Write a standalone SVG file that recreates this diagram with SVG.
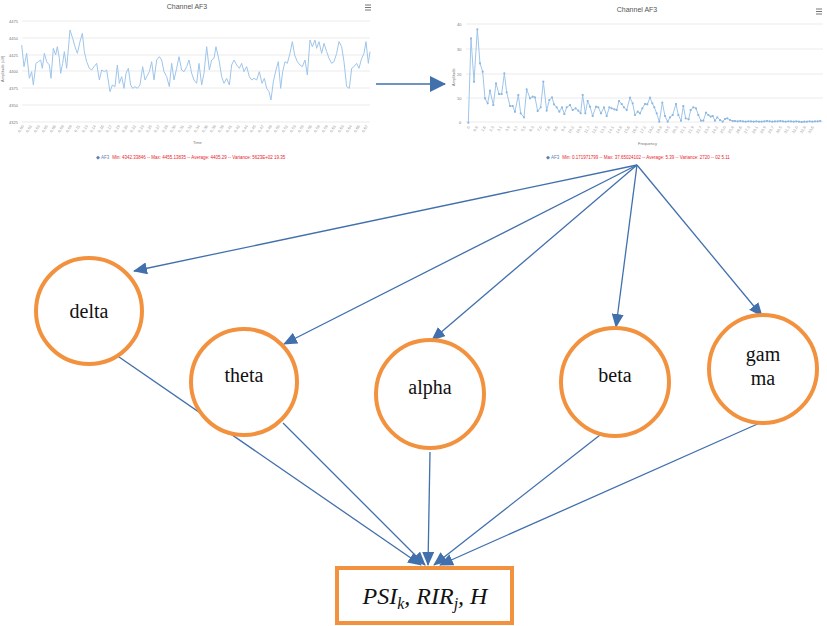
<svg xmlns="http://www.w3.org/2000/svg" width="827" height="626" viewBox="0 0 827 626">
<style>
.bg{fill:#ffffff}
.grid{stroke:#e6e6e6;stroke-width:0.8}
.ctitle{font-family:"Liberation Sans",Arial,sans-serif;font-size:7px;fill:#555;text-anchor:middle}
.axl{font-family:"Liberation Sans",Arial,sans-serif;font-size:4px;fill:#777}
.tick{font-family:"Liberation Sans",Arial,sans-serif;font-size:4px;fill:#999;text-anchor:end}
.leg{font-family:"Liberation Sans",Arial,sans-serif;font-size:4.5px;fill:#e8232a}
.legk{font-family:"Liberation Sans",Arial,sans-serif;font-size:4.5px;fill:#5b7fb5}
.data{fill:none;stroke:#9ec5ea;stroke-width:3;stroke-linejoin:round}
.node circle{fill:#ffffff;stroke:#f2923f;stroke-width:4}
.node text{font-family:"Liberation Serif","Times New Roman",serif;font-size:20px;fill:#111;text-anchor:middle}
.edge{stroke:#4170ad;stroke-width:1.3;fill:none}
.menu{stroke:#666;stroke-width:0.9}
</style>
<defs>
<marker id="ah" markerUnits="userSpaceOnUse" markerWidth="14" markerHeight="12" refX="13" refY="6" orient="auto">
<path d="M0,0 L14,6 L0,12 Z" fill="#4170ad"/>
</marker>
<marker id="ahb" markerUnits="userSpaceOnUse" markerWidth="16" markerHeight="16" refX="15" refY="8" orient="auto">
<path d="M0,0 L16,8 L0,16 Z" fill="#4170ad"/>
</marker>
<marker id="dot" markerUnits="userSpaceOnUse" markerWidth="8" markerHeight="8" refX="4" refY="4">
<circle cx="4" cy="4" r="3.2" fill="#8db7e2"/>
</marker>
</defs>
<rect class="bg" x="0" y="0" width="827" height="626"/>

<g id="chart-time">
<text class="ctitle" x="187" y="9">Channel  AF3</text>
<g class="menu"><line x1="365" y1="5" x2="371" y2="5"/><line x1="365" y1="7.5" x2="371" y2="7.5"/><line x1="365" y1="10" x2="371" y2="10"/></g>
<g class="grid">
<line x1="22" y1="21" x2="370" y2="21"/><line x1="22" y1="38" x2="370" y2="38"/><line x1="22" y1="55" x2="370" y2="55"/><line x1="22" y1="71" x2="370" y2="71"/><line x1="22" y1="88" x2="370" y2="88"/><line x1="22" y1="105" x2="370" y2="105"/><line x1="22" y1="122" x2="370" y2="122"/>
</g>
<g class="axl">
<text x="9" y="23">4475</text><text x="9" y="40">4450</text><text x="9" y="57">4425</text><text x="9" y="73">4400</text><text x="9" y="90">4375</text><text x="9" y="107">4350</text><text x="9" y="124">4325</text>
<text transform="translate(4,82) rotate(-90)">Amplitude (uV)</text>
<text x="193" y="144">Time</text>
</g>
<g class="tick">
<text transform="translate(24,126) rotate(-60)">0.00</text><text transform="translate(32,126) rotate(-60)">0.02</text><text transform="translate(40,126) rotate(-60)">0.03</text><text transform="translate(48,126) rotate(-60)">0.05</text><text transform="translate(56,126) rotate(-60)">0.06</text><text transform="translate(64,126) rotate(-60)">0.08</text><text transform="translate(72,126) rotate(-60)">0.09</text><text transform="translate(80,126) rotate(-60)">0.11</text><text transform="translate(88,126) rotate(-60)">0.13</text><text transform="translate(96,126) rotate(-60)">0.14</text><text transform="translate(104,126) rotate(-60)">0.16</text><text transform="translate(112,126) rotate(-60)">0.17</text><text transform="translate(120,126) rotate(-60)">0.19</text><text transform="translate(128,126) rotate(-60)">0.20</text><text transform="translate(136,126) rotate(-60)">0.22</text><text transform="translate(144,126) rotate(-60)">0.23</text><text transform="translate(152,126) rotate(-60)">0.25</text><text transform="translate(160,126) rotate(-60)">0.27</text><text transform="translate(168,126) rotate(-60)">0.28</text><text transform="translate(176,126) rotate(-60)">0.30</text><text transform="translate(184,126) rotate(-60)">0.31</text><text transform="translate(192,126) rotate(-60)">0.33</text><text transform="translate(200,126) rotate(-60)">0.34</text><text transform="translate(208,126) rotate(-60)">0.36</text><text transform="translate(216,126) rotate(-60)">0.38</text><text transform="translate(224,126) rotate(-60)">0.39</text><text transform="translate(232,126) rotate(-60)">0.41</text><text transform="translate(240,126) rotate(-60)">0.42</text><text transform="translate(248,126) rotate(-60)">0.44</text><text transform="translate(256,126) rotate(-60)">0.45</text><text transform="translate(264,126) rotate(-60)">0.47</text><text transform="translate(272,126) rotate(-60)">0.48</text><text transform="translate(280,126) rotate(-60)">0.50</text><text transform="translate(288,126) rotate(-60)">0.52</text><text transform="translate(296,126) rotate(-60)">0.53</text><text transform="translate(304,126) rotate(-60)">0.55</text><text transform="translate(312,126) rotate(-60)">0.56</text><text transform="translate(320,126) rotate(-60)">0.58</text><text transform="translate(328,126) rotate(-60)">0.59</text><text transform="translate(336,126) rotate(-60)">0.61</text><text transform="translate(344,126) rotate(-60)">0.63</text><text transform="translate(352,126) rotate(-60)">0.64</text><text transform="translate(360,126) rotate(-60)">0.66</text><text transform="translate(368,126) rotate(-60)">0.67</text>
</g>
<g transform="scale(0.33333)">
<polyline class="data" points="65,135 72,200 80,160 88,235 95,215 100,255 108,190 115,185 122,180 127,205 133,160 140,185 148,195 153,235 160,145 167,165 172,140 178,175 182,220 188,190 193,155 200,205 210,90 218,115 225,140 232,160 240,125 247,100 253,155 260,185 268,205 275,210 282,200 290,190 298,240 305,210 313,215 320,210 330,275 337,255 345,260 352,195 358,250 365,230 372,265 378,220 385,205 392,255 398,265 405,260 412,265 420,255 428,200 435,240 440,230 448,215 455,185 462,240 470,180 478,170 485,180 492,215 500,230 508,260 515,190 522,240 530,205 537,170 545,210 552,215 560,200 567,180 575,220 582,240 590,250 597,190 605,255 612,220 620,140 628,210 635,180 642,175 648,140 657,180 665,230 672,250 680,235 688,255 695,195 702,180 710,195 718,205 725,190 732,215 740,200 748,230 755,240 762,235 770,240 778,215 786,250 793,235 800,265 807,275 813,300 820,245 828,210 835,185 842,265 848,215 855,185 862,190 870,160 877,125 884,165 892,185 900,195 907,200 915,180 922,225 930,120 937,140 945,120 950,145 957,125 965,160 972,130 980,155 987,175 995,190 1002,185 1010,160 1017,125 1025,140 1032,185 1040,260 1048,265 1055,205 1062,200 1070,190 1077,205 1085,175 1092,160 1098,125 1105,190 1110,155"/>
</g>
<text x="96" y="159"><tspan class="legk">◆ AF3</tspan><tspan class="leg" dx="3">Min: 4342.33846 -- Max: 4455.13835 -- Average: 4405.29 -- Variance: 5623E+02 19.35</tspan></text>
</g>

<g id="chart-freq">
<text class="ctitle" x="637" y="12">Channel  AF3</text>
<g class="menu"><line x1="816" y1="9" x2="822" y2="9"/><line x1="816" y1="11.5" x2="822" y2="11.5"/><line x1="816" y1="14" x2="822" y2="14"/></g>
<g class="grid">
<line x1="466" y1="24" x2="823" y2="24"/><line x1="466" y1="49" x2="823" y2="49"/><line x1="466" y1="74" x2="823" y2="74"/><line x1="466" y1="98" x2="823" y2="98"/><line x1="466" y1="122" x2="823" y2="122"/>
</g>
<g class="axl">
<text x="457" y="26">40</text><text x="457" y="51">30</text><text x="457" y="76">20</text><text x="457" y="100">10</text><text x="459" y="124">0</text>
<text transform="translate(455,86) rotate(-90)">Amplitude</text>
<text x="638" y="145">Frequency</text>
</g>
<g class="tick">
<text transform="translate(470,127) rotate(-60)">0</text><text transform="translate(478,127) rotate(-60)">0.8</text><text transform="translate(486,127) rotate(-60)">1.6</text><text transform="translate(494,127) rotate(-60)">2.3</text><text transform="translate(502,127) rotate(-60)">3.1</text><text transform="translate(510,127) rotate(-60)">3.9</text><text transform="translate(518,127) rotate(-60)">4.7</text><text transform="translate(526,127) rotate(-60)">5.5</text><text transform="translate(534,127) rotate(-60)">6.3</text><text transform="translate(542,127) rotate(-60)">7.0</text><text transform="translate(550,127) rotate(-60)">7.8</text><text transform="translate(558,127) rotate(-60)">8.6</text><text transform="translate(566,127) rotate(-60)">9.4</text><text transform="translate(574,127) rotate(-60)">10.2</text><text transform="translate(582,127) rotate(-60)">10.9</text><text transform="translate(590,127) rotate(-60)">11.7</text><text transform="translate(598,127) rotate(-60)">12.5</text><text transform="translate(606,127) rotate(-60)">13.3</text><text transform="translate(614,127) rotate(-60)">14.1</text><text transform="translate(622,127) rotate(-60)">14.8</text><text transform="translate(630,127) rotate(-60)">15.6</text><text transform="translate(638,127) rotate(-60)">16.4</text><text transform="translate(646,127) rotate(-60)">17.2</text><text transform="translate(654,127) rotate(-60)">18.0</text><text transform="translate(662,127) rotate(-60)">18.8</text><text transform="translate(670,127) rotate(-60)">19.5</text><text transform="translate(678,127) rotate(-60)">20.3</text><text transform="translate(686,127) rotate(-60)">21.1</text><text transform="translate(694,127) rotate(-60)">21.9</text><text transform="translate(702,127) rotate(-60)">22.7</text><text transform="translate(710,127) rotate(-60)">23.4</text><text transform="translate(718,127) rotate(-60)">24.2</text><text transform="translate(726,127) rotate(-60)">25.0</text><text transform="translate(734,127) rotate(-60)">25.8</text><text transform="translate(742,127) rotate(-60)">26.6</text><text transform="translate(750,127) rotate(-60)">27.3</text><text transform="translate(758,127) rotate(-60)">28.1</text><text transform="translate(766,127) rotate(-60)">28.9</text><text transform="translate(774,127) rotate(-60)">29.7</text><text transform="translate(782,127) rotate(-60)">30.5</text><text transform="translate(790,127) rotate(-60)">31.3</text><text transform="translate(798,127) rotate(-60)">32.0</text><text transform="translate(806,127) rotate(-60)">32.8</text><text transform="translate(814,127) rotate(-60)">33.6</text>
</g>
<g transform="translate(400,0) scale(0.33333)">
<polyline class="data" marker-start="url(#dot)" marker-mid="url(#dot)" marker-end="url(#dot)" points="205,368 213,115 222,245 232,88 240,190 248,215 255,295 263,310 270,272 280,315 288,250 297,282 305,282 313,220 320,277 330,318 338,318 345,335 355,285 362,340 372,352 380,268 390,295 398,290 405,292 413,333 422,322 430,245 440,332 448,300 456,292 462,313 470,322 478,335 486,322 493,342 500,322 510,315 518,330 527,325 535,332 542,340 548,285 556,340 563,303 570,320 578,348 588,320 595,322 603,340 612,322 620,348 628,322 635,325 643,328 650,330 657,303 665,312 672,322 680,330 690,293 698,310 705,345 713,335 720,340 727,325 735,312 742,313 750,293 757,310 763,322 770,340 778,365 787,308 795,348 803,365 810,352 818,345 828,312 835,345 843,362 850,318 857,355 866,358 872,330 880,322 888,325 895,345 903,362 910,362 918,338 925,345 932,350 938,348 945,362 952,352 960,360 968,365 975,357 982,355 990,360 998,363 1005,363 1013,364 1021,363 1029,364 1037,365 1045,364 1053,364 1061,365 1069,364 1077,365 1085,365 1093,364 1101,363 1109,364 1117,365 1125,364 1133,364 1141,363 1149,364 1157,365 1165,364 1173,364 1181,365 1189,364 1197,365 1205,366 1213,365 1221,365 1229,364 1237,365 1245,364 1253,364 1261,363"/>
</g>
<text x="546" y="159"><tspan class="legk">◆ AF3</tspan><tspan class="leg" dx="3">Min: 0.171971799 -- Max: 37.65024102 -- Average: 5.39 -- Variance: 2720 -- 02 5.11</tspan></text>
</g>

<g id="connectors">
<line class="edge" x1="376" y1="84" x2="445" y2="84" stroke-width="2.6" marker-end="url(#ahb)"/>
<line class="edge" x1="637" y1="165" x2="134" y2="271" marker-end="url(#ah)"/>
<line class="edge" x1="637" y1="165" x2="284" y2="344" marker-end="url(#ah)"/>
<line class="edge" x1="637" y1="165" x2="432" y2="340" marker-end="url(#ah)"/>
<line class="edge" x1="637" y1="165" x2="616" y2="327" marker-end="url(#ah)"/>
<line class="edge" x1="637" y1="165" x2="762" y2="316" marker-end="url(#ah)"/>
<line class="edge" x1="90" y1="337" x2="421" y2="565" marker-end="url(#ah)"/>
<line class="edge" x1="283" y1="423" x2="425" y2="565" marker-end="url(#ah)"/>
<line class="edge" x1="430" y1="452" x2="428" y2="565" marker-end="url(#ah)"/>
<line class="edge" x1="600" y1="435" x2="434" y2="565" marker-end="url(#ah)"/>
<line class="edge" x1="762" y1="422" x2="440" y2="565" marker-end="url(#ah)"/>
</g>

<g id="node-delta" class="node"><circle cx="89" cy="311" r="53"/><text x="89" y="318">delta</text></g>
<g id="node-theta" class="node"><circle cx="244" cy="382" r="53"/><text x="244" y="382">theta</text></g>
<g id="node-alpha" class="node"><circle cx="430" cy="394" r="54"/><text x="430" y="394">alpha</text></g>
<g id="node-beta" class="node"><circle cx="615" cy="382" r="54"/><text x="615" y="382">beta</text></g>
<g id="node-gamma" class="node"><circle cx="763" cy="369" r="54"/><text x="763" y="361">gam</text><text x="763" y="385">ma</text></g>

<g id="node-output">
<rect x="337" y="568" width="175" height="55" fill="#ffffff" stroke="#f2923f" stroke-width="4"/>
<text x="425" y="604" text-anchor="middle" font-family="'Liberation Serif','Times New Roman',serif" font-style="italic" font-size="24" fill="#111">PSI<tspan font-size="16" dy="5">k</tspan><tspan dy="-5">, RIR</tspan><tspan font-size="16" dy="5">j</tspan><tspan dy="-5">, H</tspan></text>
</g>
</svg>
